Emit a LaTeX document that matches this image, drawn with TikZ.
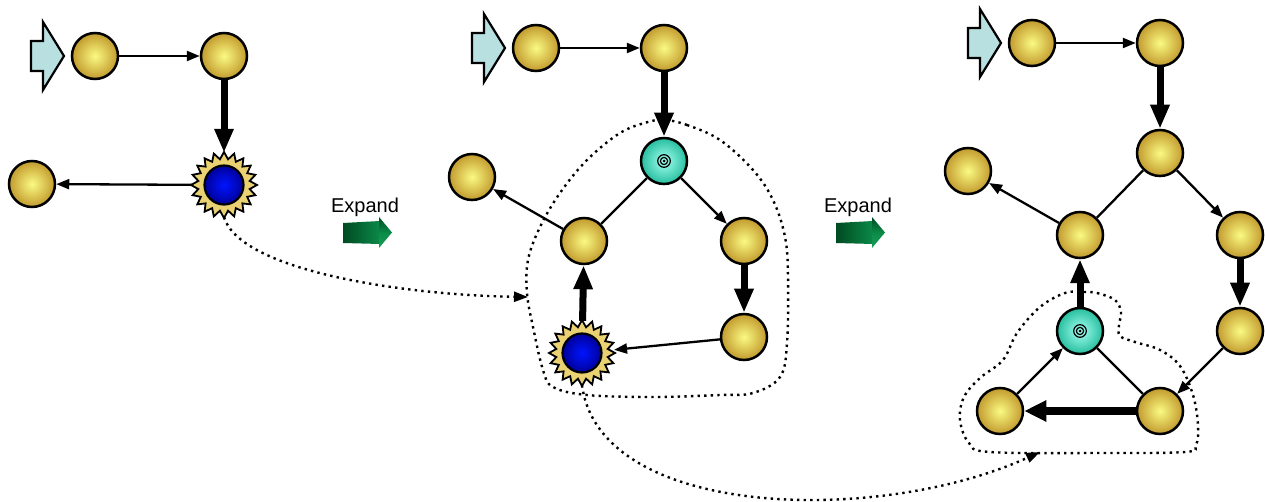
\documentclass[tikz,border=0pt]{standalone}
\usepackage{fontspec}
\setmainfont{Liberation Sans}
\usetikzlibrary{arrows.meta,calc}
\definecolor{goldin}{HTML}{FAFA82}
\definecolor{goldout}{HTML}{C29A2E}
\definecolor{tealin}{HTML}{A4FFF2}
\definecolor{tealout}{HTML}{26BE9E}
\definecolor{entryfill}{HTML}{B8E0E0}
\definecolor{sunfill}{HTML}{EAD272}
\definecolor{bluein}{HTML}{0014FF}
\definecolor{blueout}{HTML}{00009A}
\definecolor{gdark}{HTML}{004A22}
\definecolor{gmid}{HTML}{0B8A48}
\definecolor{glight}{HTML}{17A055}
\tikzset{
  gold/.style={circle, draw, line width=2.5pt, minimum size=46pt, inner sep=0pt,
    inner color=goldin, outer color=goldout},
  tealnode/.style={circle, draw, line width=2.5pt, minimum size=46pt, inner sep=0pt,
    inner color=tealin, outer color=tealout},
  sunnode/.style={circle, minimum size=64pt, inner sep=0pt},
  thinarrow/.style={line width=2.3pt, -{Triangle[length=13pt,width=10pt]}},
  thickarrow/.style={line width=7pt, -{Triangle[length=24pt,width=18pt]}},
  heavyarrow/.style={line width=8.5pt, -{Triangle[length=22pt,width=20pt]}},
  plainline/.style={line width=2.3pt},
  dotline/.style={line width=2.4pt, dash pattern=on 2.4pt off 4.2pt},
  dotarrow/.style={dotline, -{Triangle[length=14pt,width=10pt]}},
  entrystyle/.style={draw, line width=2.2pt, fill=entryfill, line join=miter},
  exptext/.style={anchor=base, inner sep=0pt, font=\fontsize{20}{24}\selectfont},
}
\newcommand{\entryarrow}[1]{%
  \path[entrystyle] ($(#1)+(-64,-15)$) -- ($(#1)+(-52,-15)$) -- ($(#1)+(-52,-34)$)
    -- ($(#1)+(-31,0)$) -- ($(#1)+(-52,34)$) -- ($(#1)+(-52,15)$) -- ($(#1)+(-64,15)$) -- cycle;}
\newcommand{\sunburst}[1]{%
  \draw[line width=1.8pt, fill=sunfill, line join=miter] ($(#1)+(0:33)$)
    \foreach \k in {0,...,19}{ -- ($(#1)+({\k*18+9}:26)$) -- ($(#1)+({\k*18+18}:33)$)} -- cycle;
  \shade[inner color=bluein, outer color=blueout] (#1) circle (19.5);
  \draw[line width=2.2pt] (#1) circle (19.5);}
\newcommand{\target}[1]{%
  \draw[line width=1.2pt] (#1) circle (6.3);
  \draw[line width=1.2pt] (#1) circle (3.6);
  \fill (#1) circle (1.5);}
\newcommand{\greenarrow}[1]{%
  \shade[left color=gdark, right color=gmid] ($(#1)+(-22,10)$) -- ($(#1)+(15,8)$)
    -- ($(#1)+(15,31)$) -- ($(#1)+(-22,30)$) -- cycle;
  \shade[top color=gdark, bottom color=glight, middle color=gmid] ($(#1)+(14,4)$)
    -- ($(#1)+(27,19.5)$) -- ($(#1)+(14,35)$) -- cycle;}
\begin{document}
\begin{tikzpicture}[x=1pt, y=-1pt]
\useasboundingbox (0,0) rectangle (1265,502);

% dotted blobs
\draw[dotline] plot[smooth cycle, tension=0.6] coordinates {
  (665,120) (687,125) (720,140) (753,170) (773,200) (785,237) (788,277) (787,343)
  (780,377) (753,393) (720,395) (653,397) (587,395) (553,387) (543,370) (533,327)
  (527,293) (528,260) (540,227) (560,193) (587,160) (620,133) (648,122)};
\draw[dotline] plot[smooth cycle, tension=0.6] coordinates {
  (1083,292) (1097,293) (1115,300) (1121,312) (1119,325) (1120,336) (1135,342)
  (1160,350) (1180,366) (1193,395) (1198,425) (1196,445) (1185,452) (1100,453)
  (990,452) (969,443) (960,420) (964,397) (980,378) (1003,360) (1017,333)
  (1040,307) (1065,293)};

% ---------- panel 1
\node[gold] (a1) at (95,56) {};
\node[gold] (b1) at (224,56) {};
\node[sunnode] (c1) at (224,185) {};
\node[gold] (d1) at (32,184) {};
\entryarrow{a1}
\sunburst{c1}
\draw[thinarrow] (a1) -- (b1);
\draw[thickarrow] (b1) -- (c1);
\draw[thinarrow] (c1) -- (d1);

% ---------- panel 2
\node[gold] (a2) at (536,48) {};
\node[gold] (b2) at (664,48) {};
\node[tealnode] (c2) at (664,161) {};
\node[gold] (d2) at (472,177) {};
\node[gold] (e2) at (584,241) {};
\node[gold] (f2) at (744,241) {};
\node[gold] (g2) at (744,337) {};
\node[sunnode] (h2) at (582,353) {};
\entryarrow{a2}
\sunburst{h2}
\target{c2}
\draw[thinarrow] (a2) -- (b2);
\draw[thickarrow] (b2) -- (c2);
\draw[plainline] (c2) -- (e2);
\draw[thinarrow] (c2) -- (f2);
\draw[thickarrow] (f2) -- (g2);
\draw[thinarrow] (g2) -- (h2);
\draw[thickarrow] (h2) -- (e2);
\draw[thinarrow] (e2) -- (d2);

% ---------- panel 3
\node[gold] (a3) at (1032,43) {};
\node[gold] (b3) at (1160,43) {};
\node[gold] (c3) at (1160,153) {};
\node[gold] (d3) at (968,171) {};
\node[gold] (e3) at (1080,235) {};
\node[gold] (f3) at (1240,235) {};
\node[tealnode] (g3) at (1080,331) {};
\node[gold] (h3) at (1000,411) {};
\node[gold] (i3) at (1160,411) {};
\node[gold] (j3) at (1240,331) {};
\entryarrow{a3}
\target{g3}
\draw[thinarrow] (a3) -- (b3);
\draw[thickarrow] (b3) -- (c3);
\draw[plainline] (c3) -- (e3);
\draw[thinarrow] (c3) -- (f3);
\draw[thinarrow] (e3) -- (d3);
\draw[thickarrow] (f3) -- (j3);
\draw[thinarrow] (j3) -- (i3);
\draw[heavyarrow] (i3) -- (h3);
\draw[thinarrow] (h3) -- (g3);
\draw[thickarrow] (g3) -- (e3);
\draw[plainline] (g3) -- (i3);

% ---------- dotted connectors
\coordinate (t1) at (528,297);
\coordinate (t2) at (1040,452);
\draw[dotarrow] (c1.south) .. controls (240,270) and (400,295) .. (t1);
\draw[dotarrow] (h2.south) .. controls (600,520) and (880,525) .. (t2);

% ---------- expand labels
\node[exptext] (x1) at (365,213) {Expand};
\node[exptext] (x2) at (858,213) {Expand};
\greenarrow{x1.base}
\greenarrow{x2.base}
\end{tikzpicture}
\end{document}
